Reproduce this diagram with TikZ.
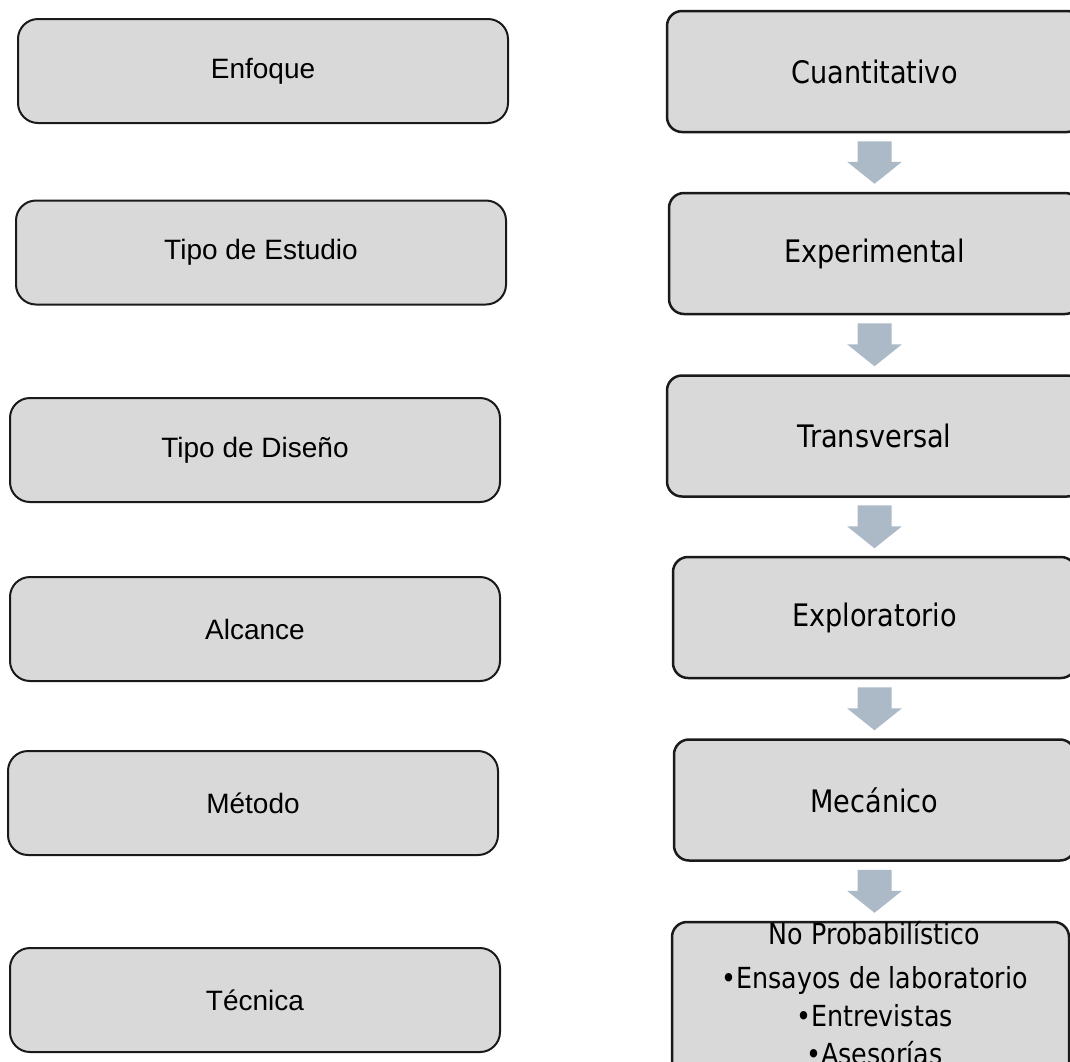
\documentclass[tikz,border=0pt]{standalone}
\usepackage{fontspec}
\setmainfont{Liberation Sans}
\newfontfamily\tah[FakeStretch=0.875]{DejaVu Sans}
\usetikzlibrary{calc}
\definecolor{boxgray}{HTML}{D9D9D9}
\definecolor{arrowgray}{HTML}{ACB9C6}
\definecolor{edge}{HTML}{1A1A1A}
\begin{document}
\begin{tikzpicture}[x=1pt,y=-1pt,
  lbox/.style={draw=edge, line width=2pt, fill=boxgray, rounded corners=20pt,
    minimum width=490pt, minimum height=104pt, inner sep=0pt,
    font=\fontsize{28}{33}\selectfont},
  rbox/.style={draw=edge, line width=2.5pt, fill=boxgray, rounded corners=15pt,
    minimum height=121pt, inner sep=0pt, font=\tah\fontsize{31}{37}\selectfont},
  flow/.style={to path={
    let \p1=(\tikztostart), \p2=(\tikztotarget) in
    (\x1-17pt,\y1) -- (\x1+17pt,\y1) -- (\x1+17pt,\y2+22pt) -- (\x1+27.5pt,\y2+22pt)
    -- (\x1,\y2) -- (\x1-27.5pt,\y2+22pt) -- (\x1-17pt,\y2+22pt) -- cycle}}
]
\useasboundingbox (0,0) rectangle (1070,1061);
\clip (0,0) rectangle (1070,1061);

% left column
\node[lbox] (enf) at (263,71) {Enfoque};
\node[lbox] (est) at (261,252.5) {Tipo de Estudio};
\node[lbox] (dis) at (255,450) {Tipo de Diseño};
\node[lbox] (alc) at (255,629) {Alcance};
\node[lbox] (met) at (253,803) {Método};
\node[lbox] (tec) at (255,1000) {Técnica};

% right column
\node[rbox, minimum width=415pt] (r1) at (874.5,71.5) {Cuantitativo};
\node[rbox, minimum width=411pt] (r2) at (874.5,253.5) {Experimental};
\node[rbox, minimum width=415pt] (r3) at (874.5,436) {Transversal};
\node[rbox, minimum width=403pt] (r4) at (874.5,617.5) {Exploratorio};
\node[rbox, minimum width=401pt] (r5) at (874.5,800) {Mecánico};
\node[rbox, minimum width=397pt, minimum height=170pt] (r6) at (870.5,1007) {};
\node[font=\tah\fontsize{29}{38}\selectfont, align=center, inner sep=0pt]
  (r6t) at (874.5,993) {No Probabilístico\\[6pt]•Ensayos de laboratorio\\•Entrevistas\\•Asesorías};

% arrows
\fill[arrowgray] ([yshift=-8pt]r1.south) to[flow] ([yshift=8pt]r2.north);
\fill[arrowgray] ([yshift=-8pt]r2.south) to[flow] ([yshift=8pt]r3.north);
\fill[arrowgray] ([yshift=-7.5pt]r3.south) to[flow] ([yshift=7.5pt]r4.north);
\fill[arrowgray] ([yshift=-8pt]r4.south) to[flow] ([yshift=8pt]r5.north);
\fill[arrowgray] ([yshift=-8pt]r5.south) to[flow] ([yshift=8pt]r6.north);
\end{tikzpicture}
\end{document}
